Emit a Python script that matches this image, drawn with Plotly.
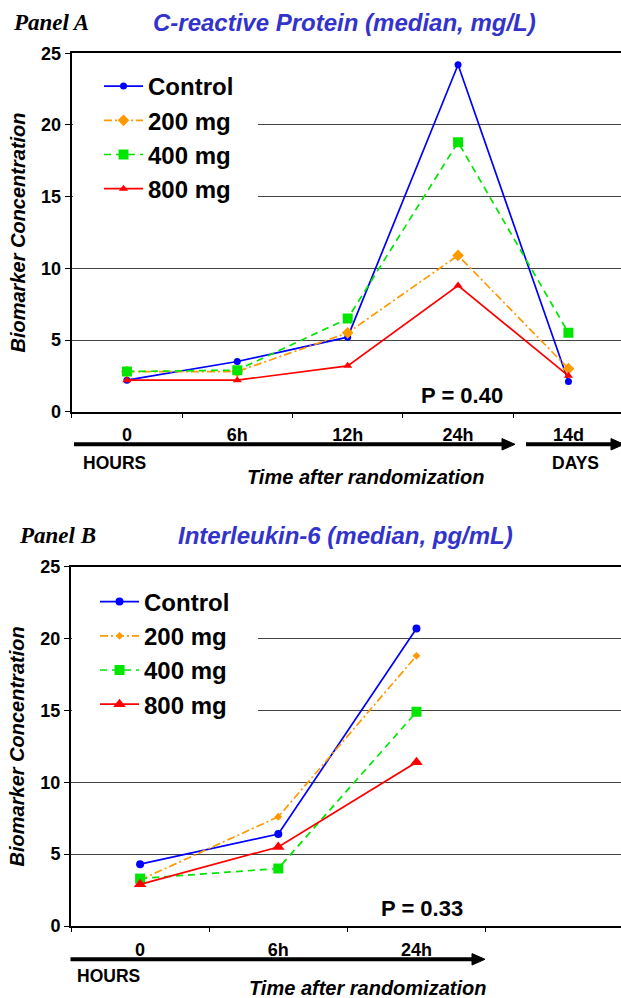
import plotly.graph_objects as go

W, H = 621, 998


def px(x):
    return x / W


def py(y):
    return 1 - y / H


# ---------------- data ----------------
time_a = ["0", "6h", "12h", "24h", "14d"]
crp_control = [2.2, 3.5, 5.2, 24.2, 2.1]
crp_200 = [2.8, 2.8, 5.5, 10.9, 3.0]
crp_400 = [2.8, 2.9, 6.5, 18.8, 5.5]
crp_800 = [2.2, 2.2, 3.2, 8.8, 2.5]

time_b = ["0", "6h", "24h"]
il6_control = [4.3, 6.4, 20.7]
il6_200 = [3.2, 7.6, 18.8]
il6_400 = [3.3, 4.0, 14.9]
il6_800 = [2.9, 5.5, 11.4]

series_names = ["Control", "200 mg", "400 mg", "800 mg"]
panel_labels = ["Panel A", "Panel B"]
panel_titles = ["C-reactive Protein (median, mg/L)", "Interleukin-6 (median, pg/mL)"]
p_values = ["P = 0.40", "P = 0.33"]
y_title = "Biomarker Concentration"
x_title = "Time after randomization"

# ---------------- styles ----------------
colors = ["#0000FF", "#FF9900", "#00E600", "#FF0000"]
symbols = ["circle", "diamond", "square", "triangle-up"]
dashes = ["solid", "8px,3px,2px,3px", "7px,5px", "solid"]
sizes_a = [7, 9, 10, 8]
sizes_b = [8, 6, 10, 11]

FONT = "Liberation Sans, Arial, sans-serif"
SERIF = "Liberation Serif, Times New Roman, serif"

fig = go.Figure()

for name, vals, c, s, d, sz in zip(series_names, [crp_control, crp_200, crp_400, crp_800],
                                   colors, symbols, dashes, sizes_a):
    fig.add_trace(go.Scatter(x=time_a, y=vals, name=name, mode="lines+markers",
                             line=dict(color=c, width=1.7, dash=d),
                             marker=dict(symbol=s, size=sz, color=c),
                             xaxis="x", yaxis="y", legend="legend"))

for name, vals, c, s, d, sz in zip(series_names, [il6_control, il6_200, il6_400, il6_800],
                                   colors, symbols, dashes, sizes_b):
    fig.add_trace(go.Scatter(x=time_b, y=vals, name=name, mode="lines+markers",
                             line=dict(color=c, width=1.7, dash=d),
                             marker=dict(symbol=s, size=sz, color=c),
                             xaxis="x2", yaxis="y2", legend="legend2"))

tickfont = dict(family=FONT, size=18, color="black", weight="bold")
ytitle_font = dict(family=FONT, size=20, color="black", weight="bold", style="italic")


def xaxis_cfg(domain_left, rng):
    return dict(domain=[px(domain_left), 1], type="category", range=rng,
                tickson="boundaries", ticks="outside", ticklen=4, tickwidth=1,
                tickcolor="black", showline=True, linewidth=2, linecolor="black",
                mirror=True, showgrid=False, zeroline=False, tickfont=tickfont,
                ticklabelstandoff=6, fixedrange=True, automargin=False)


def yaxis_cfg(top, bottom, anchor):
    return dict(domain=[py(bottom), py(top)], range=[0, 25], dtick=5, tick0=0,
                showgrid=True, gridcolor="#444444", gridwidth=1, zeroline=False,
                showline=True, linewidth=2, linecolor="black", ticks="outside",
                ticklen=5, tickwidth=1, tickcolor="black", tickfont=tickfont,
                anchor=anchor, automargin=False, fixedrange=True,
                title=dict(text=y_title, font=ytitle_font, standoff=10))


legend_font = dict(family=FONT, size=24, color="black", weight="bold")

fig.update_layout(
    width=W, height=H, autosize=False,
    margin=dict(l=0, r=0, t=0, b=0, pad=0, autoexpand=False),
    paper_bgcolor="white", plot_bgcolor="white",
    xaxis=dict(xaxis_cfg(71.7, [-0.5, 4.476]), anchor="y"),
    yaxis=yaxis_cfg(53.3, 411.7, "x"),
    xaxis2=dict(xaxis_cfg(71.0, [-0.5, 3.48]), anchor="y2"),
    yaxis2=yaxis_cfg(566.7, 926.0, "x2"),
    legend=dict(x=px(99), y=py(64), xanchor="left", yanchor="top",
                bgcolor="white", font=legend_font, itemwidth=39),
    legend2=dict(x=px(95), y=py(579.5), xanchor="left", yanchor="top",
                 bgcolor="white", font=legend_font, itemwidth=39),
    showlegend=True,
)

# white box behind legends (hides gridlines like the original; no data there)
fig.add_shape(type="rect", xref="paper", yref="paper", x0=px(73), x1=px(258),
              y0=py(210), y1=py(62), fillcolor="white", line=dict(width=0), layer="above")
fig.add_shape(type="rect", xref="paper", yref="paper", x0=px(72), x1=px(258),
              y0=py(725), y1=py(580), fillcolor="white", line=dict(width=0), layer="above")


# arrows beneath the x axes
def arrow(x0, x_tip, y, head_len=13, half_h=5.7, lw=4):
    fig.add_shape(type="line", xref="paper", yref="paper",
                  x0=px(x0), x1=px(x_tip - head_len + 1), y0=py(y), y1=py(y),
                  line=dict(color="black", width=lw))
    path = (f"M {px(x_tip - head_len)} {py(y - half_h)} L {px(x_tip)} {py(y)} "
            f"L {px(x_tip - head_len)} {py(y + half_h)} Z")
    fig.add_shape(type="path", xref="paper", yref="paper", path=path,
                  fillcolor="black", line=dict(color="black", width=1))


arrow(74, 515, 444.3)
arrow(526, 624, 444.3)
arrow(70.5, 485, 959.3)

lab_font = dict(family=FONT, size=17.5, color="black", weight="bold")
xt_font = dict(family=FONT, size=20, color="black", weight="bold", style="italic")
p_font = dict(family=FONT, size=22, color="black", weight="bold")
pl_font = dict(family=SERIF, size=23, color="black", weight="bold", style="italic")
tt_font = dict(family=FONT, size=24, color="#3333CC", weight="bold", style="italic")


def ann(text, x, y, font, xanchor="center"):
    fig.add_annotation(text=text, x=px(x), y=py(y), xref="paper", yref="paper",
                       xanchor=xanchor, yanchor="middle", showarrow=False, font=font)


# Panel A texts
ann(panel_labels[0], 11, 22, pl_font, "left")
ann(panel_titles[0], 344, 22, tt_font)
ann(p_values[0], 462, 395, p_font)
ann("HOURS", 114.7, 462.7, lab_font)
ann("DAYS", 575, 462.7, lab_font)
ann(x_title, 366, 476.7, xt_font)

# Panel B texts
ann(panel_labels[1], 17, 535, pl_font, "left")
ann(panel_titles[1], 345.7, 535, tt_font)
ann(p_values[1], 421.7, 908, p_font)
ann("HOURS", 108, 976, lab_font)
ann(x_title, 367, 988.3, xt_font)

fig.write_html("out.html",
               config={"displayModeBar": False},
               post_script="document.body.style.margin='0px';"
                           "document.body.style.padding='0px';"
                           "document.documentElement.style.overflow='hidden';")
